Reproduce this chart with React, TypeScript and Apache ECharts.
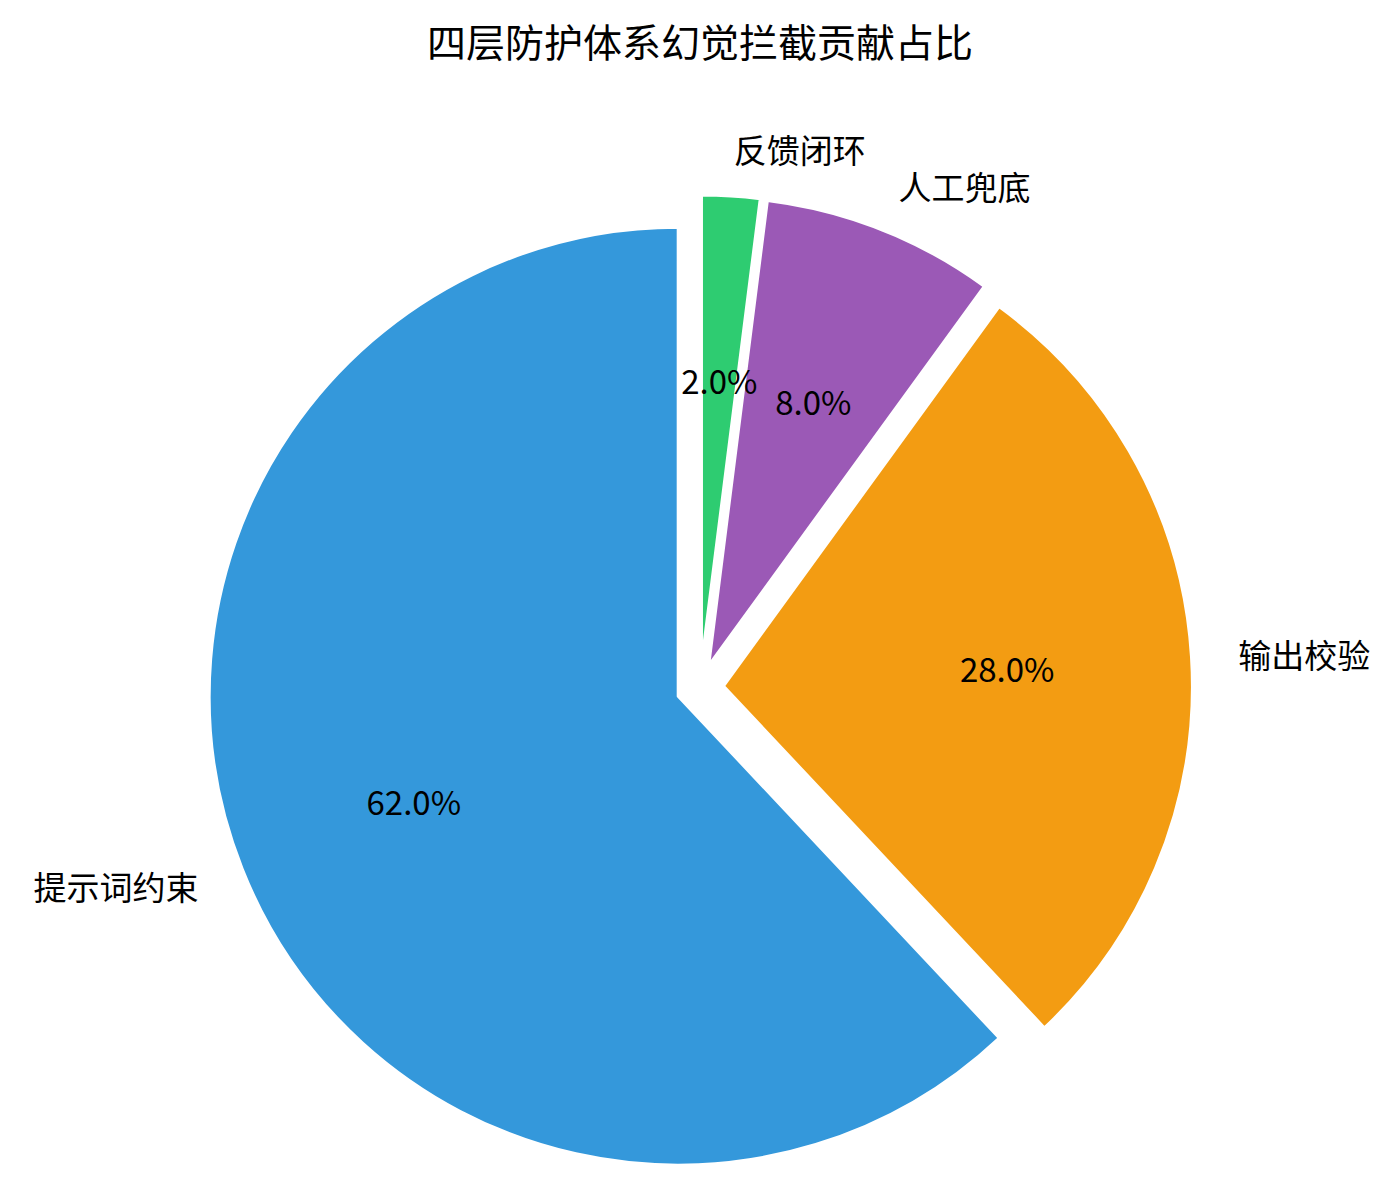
import { useEffect, useRef } from "react";
import * as echarts from "echarts";

const categories = ["提示词约束", "输出校验", "人工兜底", "反馈闭环"];
const values = [62, 28, 8, 2];
const colors = ["#3498db", "#f39c12", "#9b59b6", "#2ecc71"];

const FONT = '"Noto Sans CJK SC", "Noto Sans", sans-serif';
const R = 469; // pie radius in px
const EXPLODE = 0.05; // fraction of radius, like matplotlib explode

export default function App() {
    const chartRef = useRef<HTMLDivElement | null>(null);

    useEffect(() => {
        if (!chartRef.current) return;
        const chart = echarts.init(chartRef.current, undefined, { renderer: "svg" });

        const slices = categories.map((name, i) => ({
            name,
            value: values[i],
            selected: true,
            itemStyle: { color: colors[i] },
        }));

        const common = {
            type: "pie" as const,
            center: ["50%", 687.5],
            startAngle: 90,
            clockwise: false,
            selectedMode: "multiple" as const,
            selectedOffset: R * EXPLODE,
            avoidLabelOverlap: false,
            emphasis: { disabled: true },
        };

        const option: echarts.EChartsOption = {
            animation: false,
            title: {
                text: "四层防护体系幻觉拦截贡献占比",
                left: "center",
                top: 15,
                textStyle: { color: "#000", fontSize: 39, fontWeight: "normal", fontFamily: FONT },
            },
            series: [
                {
                    ...common,
                    radius: [0, R],
                    data: slices,
                    itemStyle: { borderColor: "#fff", borderWidth: 3 },
                    label: {
                        show: true,
                        position: "outside",
                        formatter: "{b}",
                        color: "#000",
                        fontSize: 33,
                        fontFamily: FONT,
                        distanceToLabelLine: 0,
                        offset: [0, -3],
                    },
                    labelLine: { show: false, length: R * 0.1, length2: 0 },
                    z: 1,
                },
                {
                    // transparent ring whose middle sits at 0.6 R, for the percent labels
                    ...common,
                    radius: [R * 0.2, R],
                    silent: true,
                    data: slices.map((s) => ({ ...s, itemStyle: { color: "transparent" } })),
                    itemStyle: { borderWidth: 0 },
                    label: {
                        show: true,
                        position: "inside",
                        formatter: (p: any) => `${Number(p.percent).toFixed(1)}%`,
                        color: "#000",
                        fontSize: 33,
                        fontFamily: FONT,
                        offset: [0, -6],
                    },
                    labelLine: { show: false },
                    z: 2,
                },
            ],
        };

        chart.setOption(option);
        return () => chart.dispose();
    }, []);

    return (
        <div
            ref={chartRef}
            style={{ position: "fixed", left: 0, top: 0, width: 1400, height: 1178, background: "#fff" }}
        />
    );
}
